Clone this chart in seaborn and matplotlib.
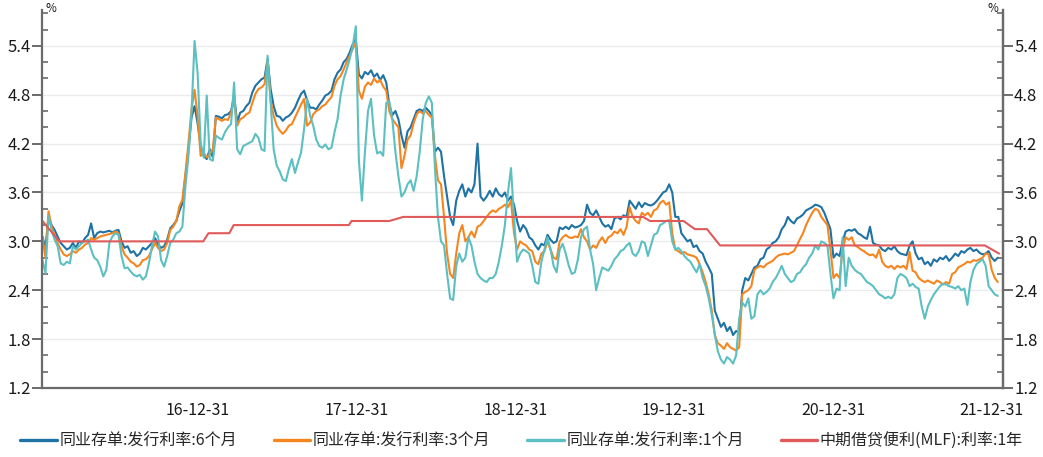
import numpy as np
import pandas as pd
import matplotlib
matplotlib.use("Agg")
import matplotlib.pyplot as plt
import matplotlib.dates as mdates
from matplotlib.lines import Line2D
import seaborn as sns

# ---------------- data (weekly readings, %) ----------------
start_date = "2016-01-08"

cd6m_2016 = [3.06, 2.92, 3.31, 3.20, 3.14, 3.06, 2.98, 2.94, 2.90, 2.92, 2.98, 2.92, 3.00, 2.98, 3.04, 3.08, 3.22, 3.04, 3.10, 3.12,
             3.11, 3.12, 3.13, 3.11, 3.13, 3.14, 3.00, 2.92, 2.94, 2.86, 2.88, 2.82, 2.85, 2.92, 2.90, 2.94, 2.98, 3.04, 2.96, 2.92,
             2.94, 3.02, 3.16, 3.20, 3.25, 3.37, 3.47, 3.80, 4.13, 4.52, 4.66, 4.45]
cd6m_2017 = [4.17, 4.05, 4.01, 4.13, 4.03, 4.54, 4.53, 4.51, 4.55, 4.56, 4.60, 4.79, 4.46, 4.58, 4.60, 4.66, 4.70, 4.83, 4.91, 4.95,
             4.99, 5.01, 5.24, 4.87, 4.66, 4.54, 4.53, 4.48, 4.52, 4.54, 4.58, 4.64, 4.73, 4.81, 4.85, 4.73, 4.64, 4.64, 4.62, 4.68,
             4.73, 4.79, 4.81, 4.85, 4.99, 5.07, 5.11, 5.20, 5.24, 5.32, 5.42, 5.48]
cd6m_2018 = [5.05, 5.00, 5.08, 5.05, 5.10, 5.02, 5.06, 4.98, 5.04, 4.95, 4.68, 4.55, 4.60, 4.50, 4.30, 4.15, 4.35, 4.40, 4.50, 4.60,
             4.62, 4.60, 4.64, 4.60, 4.55, 4.10, 4.15, 4.10, 3.80, 3.55, 3.30, 3.20, 3.50, 3.62, 3.70, 3.55, 3.65, 3.60, 3.70, 4.20,
             3.55, 3.50, 3.55, 3.62, 3.55, 3.65, 3.58, 3.55, 3.60, 3.50, 3.55, 3.45]
cd6m_2019 = [3.25, 3.12, 3.20, 3.15, 3.05, 3.02, 2.95, 2.90, 2.97, 2.95, 3.08, 3.02, 2.98, 3.00, 3.17, 3.15, 3.18, 3.15, 3.20, 3.17,
             3.18, 3.20, 3.25, 3.45, 3.35, 3.32, 3.38, 3.30, 3.22, 3.18, 3.20, 3.15, 3.28, 3.30, 3.27, 3.32, 3.30, 3.50, 3.45, 3.40,
             3.48, 3.42, 3.47, 3.45, 3.44, 3.46, 3.50, 3.55, 3.60, 3.62, 3.70, 3.60]
cd6m_2020 = [3.30, 3.30, 3.10, 3.05, 3.00, 3.02, 2.93, 2.95, 2.88, 2.85, 2.75, 2.68, 2.60, 2.15, 2.05, 1.95, 2.00, 1.90, 1.95, 1.85,
             1.90, 1.88, 2.40, 2.55, 2.52, 2.60, 2.68, 2.70, 2.78, 2.80, 2.90, 2.93, 2.98, 3.00, 3.05, 3.15, 3.20, 3.30, 3.25, 3.22,
             3.28, 3.30, 3.33, 3.38, 3.40, 3.42, 3.45, 3.44, 3.42, 3.35, 3.25, 3.15]
cd6m_2021 = [2.80, 2.85, 2.82, 3.00, 3.12, 3.14, 3.13, 3.15, 3.10, 3.08, 3.05, 3.03, 3.18, 2.98, 2.96, 2.95, 2.90, 2.88, 2.92, 2.90,
             2.94, 2.88, 2.85, 2.84, 2.83, 2.95, 3.00, 2.85, 2.78, 2.80, 2.72, 2.75, 2.70, 2.78, 2.75, 2.80, 2.78, 2.82, 2.76, 2.80,
             2.85, 2.82, 2.88, 2.86, 2.90, 2.92, 2.88, 2.90, 2.86, 2.84, 2.85, 2.88, 2.80, 2.76, 2.80]

cd3m_2016 = [3.05, 2.80, 3.37, 3.18, 3.08, 2.98, 2.90, 2.84, 2.82, 2.84, 2.88, 2.86, 2.90, 2.92, 2.96, 2.98, 3.04, 3.02, 3.04, 3.06,
             3.07, 3.08, 3.09, 3.10, 3.12, 3.10, 2.94, 2.84, 2.80, 2.75, 2.73, 2.69, 2.71, 2.77, 2.78, 2.82, 2.90, 2.98, 2.92, 2.88,
             2.90, 2.98, 3.14, 3.18, 3.25, 3.43, 3.51, 3.84, 4.21, 4.62, 4.86, 4.54]
cd3m_2017 = [4.05, 4.09, 4.03, 4.07, 4.13, 4.52, 4.50, 4.48, 4.50, 4.49, 4.58, 4.73, 4.42, 4.50, 4.52, 4.56, 4.58, 4.70, 4.81, 4.87,
             4.89, 4.93, 5.22, 4.73, 4.54, 4.42, 4.36, 4.32, 4.36, 4.42, 4.44, 4.52, 4.60, 4.68, 4.75, 4.42, 4.46, 4.56, 4.60, 4.62,
             4.66, 4.68, 4.73, 4.77, 4.91, 4.99, 5.03, 5.11, 5.20, 5.28, 5.36, 5.44]
cd3m_2018 = [4.85, 4.75, 4.90, 4.95, 4.92, 5.00, 4.95, 4.98, 4.90, 4.85, 4.60, 4.50, 4.45, 4.40, 3.90, 4.05, 4.25, 4.30, 4.45, 4.56,
             4.60, 4.57, 4.60, 4.55, 4.52, 4.05, 3.75, 3.70, 3.30, 2.85, 2.60, 2.55, 2.85, 3.10, 3.20, 3.00, 3.05, 3.12, 3.05, 3.18,
             3.20, 3.25, 3.30, 3.35, 3.38, 3.36, 3.40, 3.42, 3.45, 3.42, 3.50, 3.10]
cd3m_2019 = [2.90, 3.00, 2.97, 2.95, 2.90, 2.88, 2.75, 2.72, 2.85, 2.88, 3.00, 2.90, 2.80, 2.78, 3.00, 3.05, 3.08, 3.05, 3.04, 3.06,
             3.05, 3.15, 3.05, 3.00, 2.90, 2.95, 2.92, 3.00, 3.05, 2.98, 3.05, 3.07, 3.12, 3.10, 3.15, 3.08, 3.18, 3.42, 3.30, 3.25,
             3.22, 3.35, 3.32, 3.35, 3.30, 3.38, 3.40, 3.47, 3.50, 3.45, 3.48, 3.10]
cd3m_2020 = [2.90, 2.88, 2.85, 2.87, 2.84, 2.83, 2.82, 2.80, 2.72, 2.62, 2.50, 2.35, 2.15, 1.85, 1.75, 1.72, 1.68, 1.75, 1.70, 1.68,
             1.66, 1.70, 2.35, 2.38, 2.40, 2.45, 2.65, 2.68, 2.70, 2.68, 2.72, 2.74, 2.76, 2.80, 2.83, 2.84, 2.85, 2.84, 2.86, 2.88,
             2.95, 3.03, 3.10, 3.20, 3.28, 3.35, 3.40, 3.38, 3.30, 3.25, 3.20, 2.90]
cd3m_2021 = [2.55, 2.60, 2.55, 2.90, 3.05, 3.02, 3.05, 2.95, 2.93, 2.90, 2.88, 2.85, 2.83, 2.84, 2.80, 2.90, 2.75, 2.70, 2.68, 2.70,
             2.66, 2.70, 2.68, 2.70, 2.66, 2.87, 2.64, 2.62, 2.55, 2.52, 2.50, 2.52, 2.50, 2.48, 2.52, 2.50, 2.47, 2.50, 2.48, 2.60,
             2.62, 2.68, 2.70, 2.72, 2.75, 2.74, 2.77, 2.76, 2.78, 2.80, 2.85, 2.84, 2.65, 2.55, 2.50]

cd1m_2016 = [2.77, 2.61, 3.31, 3.14, 3.02, 2.94, 2.73, 2.71, 2.75, 2.73, 2.94, 2.90, 2.94, 2.98, 3.00, 3.02, 2.90, 2.80, 2.77, 2.69,
             2.57, 2.65, 2.98, 3.06, 3.10, 3.08, 2.82, 2.67, 2.68, 2.63, 2.59, 2.57, 2.59, 2.53, 2.57, 2.73, 2.94, 3.12, 3.06, 2.77,
             2.69, 2.82, 2.98, 3.02, 3.10, 3.12, 3.18, 3.68, 4.05, 4.58, 5.46, 5.07]
cd1m_2017 = [4.21, 4.03, 4.79, 4.01, 3.99, 4.30, 4.27, 4.25, 4.34, 4.40, 4.44, 4.95, 4.13, 4.07, 4.17, 4.19, 4.21, 4.23, 4.32, 4.27,
             4.13, 4.11, 5.28, 4.70, 4.13, 3.93, 3.86, 3.76, 3.74, 3.89, 4.01, 3.84, 3.97, 4.09, 4.38, 4.75, 4.54, 4.42, 4.25, 4.17,
             4.15, 4.19, 4.13, 4.15, 4.34, 4.50, 4.79, 4.99, 5.11, 5.24, 5.40, 5.64]
cd1m_2018 = [4.00, 3.50, 4.10, 4.60, 4.75, 4.30, 4.08, 4.10, 4.05, 4.70, 4.72, 4.50, 4.10, 3.80, 3.55, 3.60, 3.70, 3.75, 3.62, 3.80,
             4.10, 4.50, 4.70, 4.78, 4.70, 3.90, 3.30, 3.00, 2.95, 2.60, 2.30, 2.28, 2.70, 2.85, 2.75, 2.80, 3.05, 2.95, 2.75, 2.60,
             2.55, 2.52, 2.50, 2.55, 2.55, 2.60, 2.75, 2.95, 3.20, 3.60, 3.90, 3.30]
cd1m_2019 = [2.75, 2.85, 2.90, 2.88, 2.85, 2.70, 2.50, 2.48, 2.75, 2.90, 3.05, 2.90, 2.70, 2.62, 2.90, 2.97, 2.85, 2.70, 2.60, 2.62,
             2.78, 3.05, 3.15, 3.18, 2.90, 2.72, 2.40, 2.55, 2.68, 2.66, 2.64, 2.70, 2.78, 2.82, 2.88, 2.90, 2.95, 2.98, 2.85, 2.82,
             2.88, 3.00, 2.98, 2.82, 2.95, 3.08, 3.10, 3.20, 3.22, 3.25, 3.26, 3.00]
cd1m_2020 = [2.90, 2.92, 2.88, 2.82, 2.78, 2.75, 2.68, 2.62, 2.72, 2.55, 2.45, 2.30, 2.10, 1.85, 1.65, 1.55, 1.50, 1.58, 1.55, 1.50,
             1.60, 2.05, 2.25, 2.20, 2.30, 2.05, 2.08, 2.35, 2.40, 2.35, 2.38, 2.42, 2.50, 2.55, 2.62, 2.70, 2.60, 2.55, 2.50, 2.52,
             2.60, 2.62, 2.68, 2.72, 2.80, 2.85, 2.95, 2.90, 3.00, 2.98, 2.95, 2.60]
cd1m_2021 = [2.30, 2.42, 2.40, 3.05, 2.45, 2.80, 2.70, 2.65, 2.62, 2.60, 2.55, 2.50, 2.48, 2.45, 2.40, 2.35, 2.33, 2.30, 2.32, 2.30,
             2.35, 2.55, 2.60, 2.58, 2.55, 2.45, 2.48, 2.44, 2.42, 2.20, 2.05, 2.20, 2.28, 2.35, 2.40, 2.45, 2.48, 2.47, 2.45, 2.44,
             2.42, 2.45, 2.40, 2.42, 2.22, 2.50, 2.65, 2.72, 2.75, 2.78, 2.70, 2.45, 2.40, 2.35, 2.33]

mlf_dates = ["2016-01-08", "2016-02-16", "2017-01-12", "2017-01-24", "2017-03-13", "2017-03-23",
             "2017-12-13", "2017-12-19", "2018-03-16", "2018-04-17", "2019-10-21", "2019-11-06",
             "2020-01-22", "2020-02-17", "2020-03-16", "2020-04-15", "2021-12-15", "2022-01-17"]
mlf_vals = [3.25, 3.00, 3.00, 3.10, 3.10, 3.20, 3.20, 3.25, 3.25, 3.30, 3.30, 3.25,
            3.25, 3.15, 3.15, 2.95, 2.95, 2.85]

series_names = ["同业存单:发行利率:6个月", "同业存单:发行利率:3个月", "同业存单:发行利率:1个月", "中期借贷便利(MLF):利率:1年"]
series_colors = ["#1f72a4", "#f5861f", "#5cbfc1", "#e05a5a"]

x_tick_dates = ["2016-12-31", "2017-12-31", "2018-12-31", "2019-12-31", "2020-12-31", "2021-12-31"]
y_ticks = [1.2, 1.8, 2.4, 3.0, 3.6, 4.2, 4.8, 5.4]

# ---------------- build frames ----------------
cd6m = cd6m_2016 + cd6m_2017 + cd6m_2018 + cd6m_2019 + cd6m_2020 + cd6m_2021
cd3m = cd3m_2016 + cd3m_2017 + cd3m_2018 + cd3m_2019 + cd3m_2020 + cd3m_2021
cd1m = cd1m_2016 + cd1m_2017 + cd1m_2018 + cd1m_2019 + cd1m_2020 + cd1m_2021
n = min(len(cd6m), len(cd3m), len(cd1m))
dates = pd.date_range(start_date, periods=n, freq="7D")
df = pd.DataFrame({"date": dates, "6m": cd6m[:n], "3m": cd3m[:n], "1m": cd1m[:n]})
mlf = pd.DataFrame({"date": pd.to_datetime(mlf_dates), "v": mlf_vals})

# ---------------- style ----------------
sns.set_style("white")
plt.rcParams["font.family"] = ["Noto Sans CJK SC", "DejaVu Sans"]
plt.rcParams["axes.unicode_minus"] = False

W, H = 1043, 457
fig = plt.figure(figsize=(W / 100, H / 100), dpi=100)
ax = fig.add_axes([42 / W, 1 - 388 / H, (1003 - 42) / W, (388 - 10) / H])

lw = 1.5
sns.lineplot(data=df, x="date", y="6m", ax=ax, color=series_colors[0], linewidth=lw, label=series_names[0])
sns.lineplot(data=df, x="date", y="3m", ax=ax, color=series_colors[1], linewidth=lw, label=series_names[1])
sns.lineplot(data=df, x="date", y="1m", ax=ax, color=series_colors[2], linewidth=lw, label=series_names[2])
sns.lineplot(data=mlf, x="date", y="v", ax=ax, color=series_colors[3], linewidth=lw, label=series_names[3])
if ax.get_legend() is not None:
    ax.get_legend().remove()

ax.set_xlabel("")
ax.set_ylabel("")
ax.set_xlim(pd.Timestamp("2016-01-07"), pd.Timestamp("2022-01-26"))
ymin, ymax = 1.2, 5.84
ax.set_ylim(ymin, ymax)

# x ticks
xt = pd.to_datetime(x_tick_dates)
ax.set_xticks(xt)
ax.set_xticklabels([d.strftime("%y-%m-%d") for d in xt])
try:
    qends = pd.date_range("2016-01-01", "2022-01-31", freq="QE")
except Exception:
    qends = pd.date_range("2016-01-01", "2022-01-31", freq="Q")
ax.set_xticks([d for d in qends if d.month != 12], minor=True)

# y ticks
ax.set_yticks(y_ticks)
ax.set_yticklabels([f"{v:.1f}" for v in y_ticks])
ax.set_yticks(np.arange(1.4, 5.81, 0.2), minor=True)

spine_c = "#6b6b6b"
for s in ["left", "right", "bottom"]:
    ax.spines[s].set_visible(True)
    ax.spines[s].set_color(spine_c)
    ax.spines[s].set_linewidth(1.6)
ax.spines["top"].set_visible(False)

ax.tick_params(axis="x", which="major", direction="out", length=8, width=1.4, color=spine_c,
               labelsize=11.5, labelcolor="#1a1a1a", pad=2)
ax.tick_params(axis="x", which="minor", direction="out", length=4, width=1.2, color=spine_c)
ax.tick_params(axis="y", which="major", direction="out", length=7, width=1.4, color=spine_c,
               labelsize=12, labelcolor="#1a1a1a", pad=1)
ax.tick_params(axis="y", which="minor", direction="in", length=4, width=1.2, color=spine_c)
ax.yaxis.grid(True, which="major", color="#ebebeb", linewidth=1.0)
ax.xaxis.grid(False)
ax.set_axisbelow(True)

# right axis (same scale)
ax2 = ax.twinx()
ax2.set_ylim(ymin, ymax)
ax2.set_yticks(y_ticks)
ax2.set_yticklabels([f"{v:.1f}" for v in y_ticks])
ax2.set_yticks(np.arange(1.4, 5.81, 0.2), minor=True)
for s in ["left", "top", "bottom"]:
    ax2.spines[s].set_visible(False)
ax2.spines["right"].set_color(spine_c)
ax2.spines["right"].set_linewidth(1.6)
ax2.tick_params(axis="y", which="major", direction="out", length=7, width=1.4, color=spine_c,
                labelsize=12, labelcolor="#1a1a1a", pad=1)
ax2.tick_params(axis="y", which="minor", direction="in", length=4, width=1.2, color=spine_c)

# unit labels
fig.text(45 / W, 1 - 9 / H, "%", fontsize=8.5, ha="left", va="center", color="#1a1a1a")
fig.text(998 / W, 1 - 9 / H, "%", fontsize=8.5, ha="right", va="center", color="#1a1a1a")

# legend
handles = [Line2D([0], [0], color=c, linewidth=2.4) for c in series_colors]
fig.legend(handles, series_names, loc="center", bbox_to_anchor=(0.5, 1 - 441 / H), ncol=4,
           frameon=False, fontsize=11.5, handlelength=2.3, handletextpad=0.15, columnspacing=2.3)

fig.savefig("out.png", dpi=100)
